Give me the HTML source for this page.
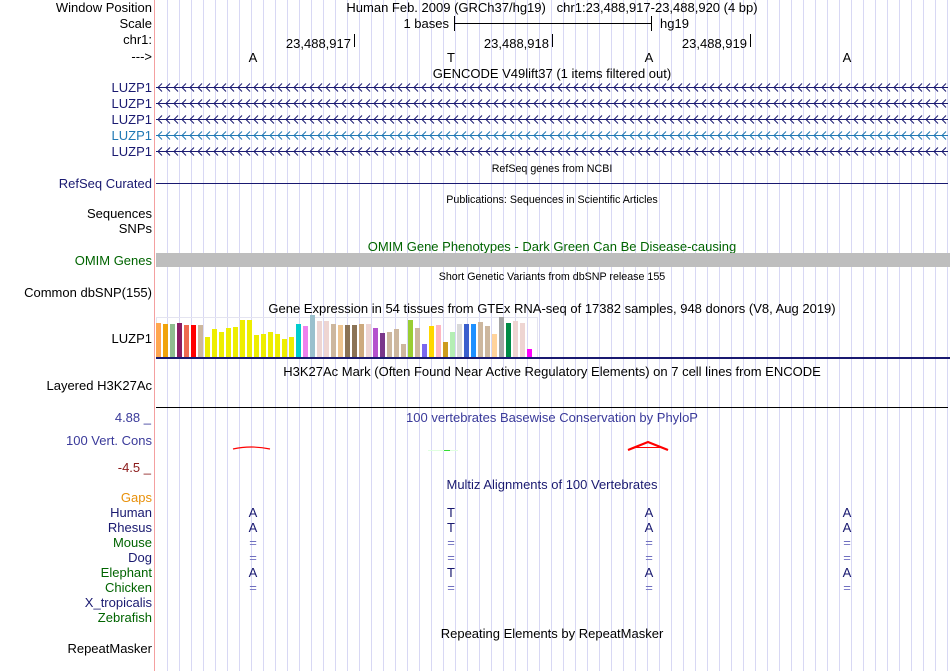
<!DOCTYPE html>
<html><head><meta charset="utf-8"><style>
html,body{margin:0;padding:0;background:#fff;width:950px;height:671px;overflow:hidden}
svg{display:block;font-family:"Liberation Sans",sans-serif}
text{white-space:pre}
</style></head><body>
<svg id="svg" width="950" height="671" viewBox="0 0 950 671">
<g id="grid"></g>
<line x1="154.5" y1="0" x2="154.5" y2="671" stroke="#f4a0a0"/>
<g id="labels" font-size="13" text-anchor="end"></g>
<g id="tracks"></g>
</svg>
<script>
const NS='http://www.w3.org/2000/svg';
const svg=document.getElementById('svg');
function mk(tag,attrs,parent,text){const e=document.createElementNS(NS,tag);for(const k in attrs)e.setAttribute(k,attrs[k]);if(text!==undefined)e.textContent=text;(parent||svg).appendChild(e);return e;}
const grid=document.getElementById('grid'),labels=document.getElementById('labels'),tracks=document.getElementById('tracks');
for(let x=167;x<=948;x+=12){const l=mk('line',{x1:x+.5,y1:0,x2:x+.5,y2:671,stroke:'#d8d8f4'},grid);

}
const labelData=[
['Window Position',12,'#000'],['Scale',28,'#000'],['chr1:',44,'#000'],['--->',61,'#000'],
['LUZP1',92,'#191970'],['LUZP1',108,'#191970'],['LUZP1',124,'#191970'],['LUZP1',140,'#1f78b4'],['LUZP1',156,'#191970'],
['RefSeq Curated',188,'#191970'],['Sequences',218,'#000'],['SNPs',233,'#000'],['OMIM Genes',265,'#006400'],
['Common dbSNP(155)',297,'#000'],['LUZP1',343,'#000'],['Layered H3K27Ac',390,'#000'],
['100 Vert. Cons',445,'#3a3a9a'],
['Gaps',502,'#e8900a'],['Human',517,'#191970'],['Rhesus',532,'#191970'],['Mouse',547,'#006400'],['Dog',562,'#191970'],
['Elephant',577,'#006400'],['Chicken',592,'#006400'],['X_tropicalis',607,'#191970'],['Zebrafish',622,'#006400'],['RepeatMasker',653,'#000']];
for(const [t,y,c] of labelData){const e=mk('text',{x:152,y:y,fill:c},labels,t);

}
const e1=mk('text',{x:151,y:422,fill:'#3a3a9a','font-size':13,'text-anchor':'end'},svg,'4.88 _');

const e2=mk('text',{x:151,y:472,fill:'#8b1a1a','font-size':13,'text-anchor':'end'},svg,'-4.5 _');

function title(t,x,y,size,color,name){const e=mk('text',{x:x,y:y,'font-size':size,fill:color,'text-anchor':'middle'},tracks,t);

}
title('Human Feb. 2009 (GRCh37/hg19)   chr1:23,488,917-23,488,920 (4 bp)',552,12,13,'#000','window-position');
title('GENCODE V49lift37 (1 items filtered out)',552,78,13,'#000','gencode-title');
title('RefSeq genes from NCBI',552,172,10.7,'#000','refseq-title');
title('Publications: Sequences in Scientific Articles',552,203,10.7,'#000','publications-title');
title('OMIM Gene Phenotypes - Dark Green Can Be Disease-causing',552,251,13,'#006400','omim-title');
title('Short Genetic Variants from dbSNP release 155',552,280,10.7,'#000','dbsnp-title');
title('Gene Expression in 54 tissues from GTEx RNA-seq of 17382 samples, 948 donors (V8, Aug 2019)',552,313,13,'#000','gtex-title');
title('H3K27Ac Mark (Often Found Near Active Regulatory Elements) on 7 cell lines from ENCODE',552,376,13,'#000','h3k27ac-title');
title('100 vertebrates Basewise Conservation by PhyloP',552,422,13,'#3a3a9a','phylop-title');
title('Multiz Alignments of 100 Vertebrates',552,489,13,'#191970','multiz-title');
title('Repeating Elements by RepeatMasker',552,638,13,'#000','repeatmasker-title');
const s1=mk('text',{x:449,y:28,'font-size':13,'text-anchor':'end'},tracks,'1 bases');
mk('path',{d:'M454.5,16V31M454.5,23.5H651.5M651.5,16V31',stroke:'#000',fill:'none'},tracks);
const s2=mk('text',{x:660,y:28,'font-size':13},tracks,'hg19');
const posLabels=['23,488,917','23,488,918','23,488,919'];
posLabels.forEach((p,i)=>{const x=354+198*i;const t=mk('text',{x:x-3,y:48,'font-size':13,'text-anchor':'end'},tracks,p);

mk('line',{x1:x+.5,y1:34,x2:x+.5,y2:47,stroke:'#000'},tracks);});
const bases=['A','T','A','A'];
const aligned={517:['A','T','A','A'],532:['A','T','A','A'],547:['=','=','=','='],562:['=','=','=','='],577:['A','T','A','A'],592:['=','=','=','=']};
bases.forEach((b,i)=>{const t=mk('text',{x:253+198*i,y:62,'font-size':13,'text-anchor':'middle'},tracks,b);
});
for(const y in aligned){aligned[y].forEach((b,i)=>{const eq=b==='=';const t=mk('text',{x:253+198*i,y:+y,'font-size':13,'text-anchor':'middle',fill:eq?'#7070c0':'#191970'},tracks,b);
});}
[87,103,119,135,151].forEach((y,i)=>{const c=i===3?'#1f78b4':'#191970';
const g=mk('g',{},tracks);
mk('line',{x1:156,y1:y+.5,x2:948,y2:y+.5,stroke:c},g);
let d='';for(let x=158;x<946;x+=8)d+=`M${x+4},${y-3.5}L${x},${y+.5}L${x+4},${y+4.5}`;
mk('path',{d:d,stroke:c,fill:'none','stroke-width':1},g);});
const rl=mk('line',{x1:156,y1:183.5,x2:948,y2:183.5,stroke:'#191970'},tracks);
const om=mk('rect',{x:156,y:253,width:794,height:14,fill:'#bebebe'},tracks);
const gtexValues=[34,33,33,34,32,32,32,20,28,25,29,30,37,37,22,23,25,23,18,20,33,31,42,36,36,33,32,32,32,33,33,29,24,25,28,13,37,29,13,31,32,15,25,33,33,33,35,31,23,40,34,36,34,8];
const gtexColors=['#ffa54f','#f0a30a','#8fbc8f','#8b1c62','#ee6a50','#ff0000','#cdb79e','#eeee00','#eeee00','#eeee00','#eeee00','#eeee00','#eeee00','#eeee00','#eeee00','#eeee00','#eeee00','#eeee00','#eeee00','#eeee00','#00cdcd','#ee82ee','#9ac0cd','#eed5d2','#eed5d2','#cdb79e','#eec591','#8b7355','#8b7355','#cdaa7d','#eed5d2','#b452cd','#7a378b','#cdb79e','#cdb79e','#cdb79e','#9acd32','#cdb79e','#7b68ee','#ffd700','#ffb6c1','#cd9b1d','#b4eeb4','#d9d9d9','#3a5fcd','#1e90ff','#cdb79e','#cdb79e','#ffd39b','#a6a6a6','#008b45','#eed5d2','#eed5d2','#ff00ff'];
const gBase=357;
const gb=mk('rect',{x:156.5,y:317.5,width:381,height:41,fill:'none',stroke:'#e4e4f0'},tracks);
gtexValues.forEach((v,i)=>{const h=v;const r=mk('rect',{x:156+i*7,y:gBase-h,width:5,height:h,fill:gtexColors[i]},tracks);

});
mk('rect',{x:156,y:357,width:794,height:2,fill:'#191970'},tracks);
const hl=mk('line',{x1:156,y1:407.5,x2:948,y2:407.5,stroke:'#000'},tracks);
const p1=mk('path',{d:'M233,449 Q251,445 270,449',stroke:'#ff0000',fill:'none','stroke-width':1.2},tracks);
mk('line',{x1:428,y1:450.5,x2:458,y2:450.5,stroke:'#e0ffe0'},tracks);
const p2=mk('line',{x1:444,y1:450.5,x2:450,y2:450.5,stroke:'#33dd33'},tracks);
const p3=mk('path',{d:'M628,450 L648,442 L668,450',stroke:'#ff0000',fill:'none','stroke-width':2.2},tracks);
mk('line',{x1:636,y1:447.5,x2:660,y2:447.5,stroke:'#ff0000'},tracks);
</script>
</body></html>
